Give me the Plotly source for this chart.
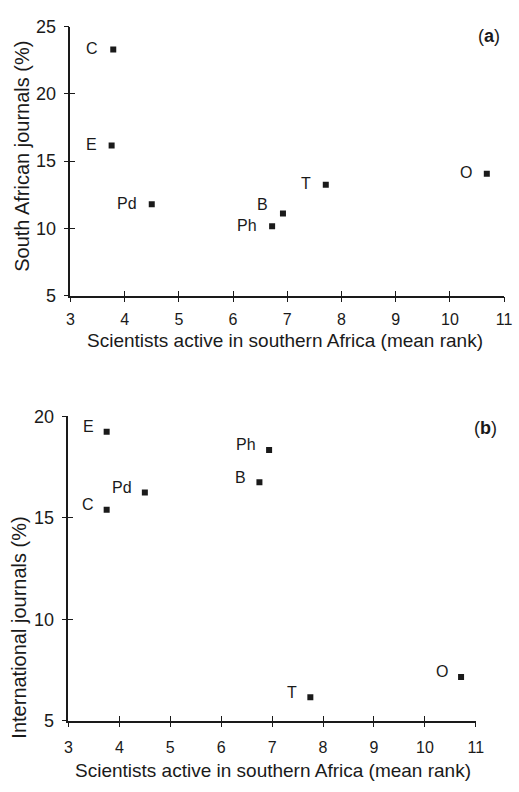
import plotly.graph_objects as go

# ---- data ----
labels = ["C", "E", "Pd", "Ph", "B", "T", "O"]
rank_a = [3.79, 3.76, 4.50, 6.72, 6.92, 7.71, 10.68]
sa_journals = [23.3, 16.15, 11.8, 10.15, 11.1, 13.25, 14.05]
rank_b = [3.75, 3.75, 4.50, 6.94, 6.75, 7.75, 10.71]
int_journals = [15.4, 19.25, 16.25, 18.35, 16.75, 6.15, 7.15]

x_ticks = [3, 4, 5, 6, 7, 8, 9, 10, 11]
ya_ticks = [5, 10, 15, 20, 25]
yb_ticks = [5, 10, 15, 20]

x_title = "Scientists active in southern Africa (mean rank)"
ya_title = "South African journals (%)"
yb_title = "International journals (%)"

# ---- style ----
W, H = 519, 792
FONT = "Liberation Sans, Arial, sans-serif"
INK = "#1a1a1a"
label_shift_a = {"B": (-13, 9)}
default_shift_a = (-13, 1)
default_shift_b = (-11, 5)

def px(v):
    return v / W

def py(v):
    return 1 - v / H

dom_ax = [px(68), px(512)]
dom_ay = [py(293), py(17)]
dom_bx = [px(66), px(483)]
dom_by = [py(729), py(417)]

fig = go.Figure()

marker = dict(symbol="square", size=6, color=INK, line=dict(width=0))
fig.add_trace(go.Scatter(x=rank_a, y=sa_journals, mode="markers", marker=marker,
                         xaxis="x", yaxis="y", hoverinfo="x+y"))
fig.add_trace(go.Scatter(x=rank_b, y=int_journals, mode="markers", marker=marker,
                         xaxis="x2", yaxis="y2", hoverinfo="x+y"))
# empty traces to activate the overlay (inner tick) axes
fig.add_trace(go.Scatter(x=[None], y=[None], xaxis="x3", yaxis="y3", hoverinfo="skip"))
fig.add_trace(go.Scatter(x=[None], y=[None], xaxis="x4", yaxis="y4", hoverinfo="skip"))

xtickfont = dict(family=FONT, size=16, color=INK)
ytickfont = dict(family=FONT, size=18, color=INK)
common = dict(showgrid=False, zeroline=False, showline=True, linecolor=INK,
              linewidth=1.5, ticks="outside", ticklen=5, tickwidth=1.3,
              tickcolor=INK)
inner = dict(showgrid=False, zeroline=False, showline=False, ticks="inside",
             ticklen=5, tickwidth=1.3, tickcolor=INK, showticklabels=False)

fig.update_layout(
    width=W, height=H, margin=dict(l=0, r=0, t=0, b=0),
    paper_bgcolor="white", plot_bgcolor="white", showlegend=False,
    font=dict(family=FONT, color=INK),
    xaxis=dict(domain=dom_ax, range=[3, 11], anchor="y", tickvals=x_ticks,
               ticklabelstandoff=3, tickfont=xtickfont, **common),
    yaxis=dict(domain=dom_ay, range=[5, 25], anchor="x", tickvals=ya_ticks,
               ticklabelstandoff=4, tickfont=ytickfont, **common),
    xaxis2=dict(domain=dom_bx, range=[3, 11], anchor="y2", tickvals=x_ticks,
                ticklabelstandoff=6, tickfont=xtickfont, **common),
    yaxis2=dict(domain=dom_by, range=[5, 20], anchor="x2", tickvals=yb_ticks,
                ticklabelstandoff=4, tickfont=ytickfont, **common),
    xaxis3=dict(overlaying="x", anchor="y", range=[3, 11], tickvals=x_ticks, **inner),
    yaxis3=dict(overlaying="y", anchor="x", range=[5, 25], tickvals=ya_ticks, **inner),
    xaxis4=dict(overlaying="x2", anchor="y2", range=[3, 11], tickvals=x_ticks, **inner),
    yaxis4=dict(overlaying="y2", anchor="x2", range=[5, 20], tickvals=yb_ticks, **inner),
)

annotations = []
for lab, xv, yv in zip(labels, rank_a, sa_journals):
    dx, dy = label_shift_a.get(lab, default_shift_a)
    annotations.append(dict(x=xv, y=yv, xref="x", yref="y", text=lab, showarrow=False,
                            xanchor="right", yanchor="middle", xshift=dx, yshift=dy,
                            font=dict(family=FONT, size=16, color=INK)))
for lab, xv, yv in zip(labels, rank_b, int_journals):
    dx, dy = default_shift_b
    annotations.append(dict(x=xv, y=yv, xref="x2", yref="y2", text=lab, showarrow=False,
                            xanchor="right", yanchor="middle", xshift=dx, yshift=dy,
                            font=dict(family=FONT, size=16, color=INK)))

title_font = dict(family=FONT, size=19, color=INK)
annotations += [
    dict(text=x_title, x=px(288), y=py(339), xref="paper", yref="paper",
         showarrow=False, xanchor="center", yanchor="middle", font=title_font),
    dict(text=x_title, x=px(275), y=py(780), xref="paper", yref="paper",
         showarrow=False, xanchor="center", yanchor="middle", font=title_font),
    dict(text=ya_title, x=px(19), y=py(150), xref="paper", yref="paper", textangle=-90,
         showarrow=False, xanchor="center", yanchor="middle", font=dict(family=FONT, size=20, color=INK)),
    dict(text=yb_title, x=px(15), y=py(634), xref="paper", yref="paper", textangle=-90,
         showarrow=False, xanchor="center", yanchor="middle", font=dict(family=FONT, size=20, color=INK)),
    dict(text="(<b>a</b>)", x=px(496), y=py(27), xref="paper", yref="paper",
         showarrow=False, xanchor="center", yanchor="middle", font=dict(family=FONT, size=18, color=INK)),
    dict(text="(<b>b</b>)", x=px(493), y=py(429), xref="paper", yref="paper",
         showarrow=False, xanchor="center", yanchor="middle", font=dict(family=FONT, size=18, color=INK)),
]
fig.update_layout(annotations=annotations)

fig.write_html("out.html")
